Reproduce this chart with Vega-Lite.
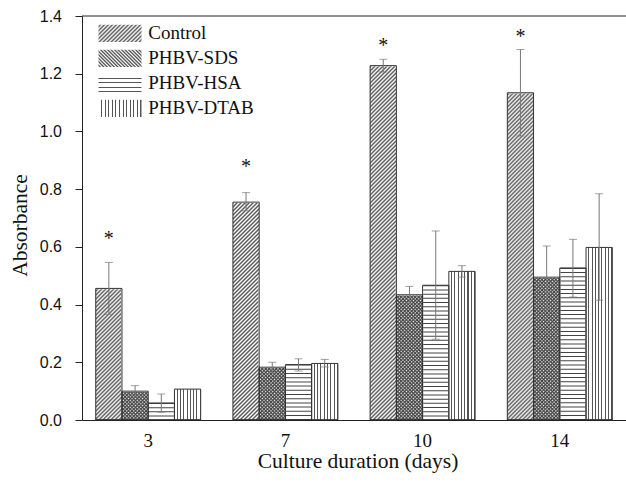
{
"$schema":"https://vega.github.io/schema/vega-lite/v6.json",
"width":544,"height":404,
"autosize":"none",
"padding":{"left":82,"top":16,"right":0,"bottom":63},
"background":"#ffffff",
"config":{"view":{"stroke":null},"font":"Liberation Serif"},
"data":{"values":[
{"day":"3","series":"Control","value":0.456,"lo":0.366,"hi":0.546,"star":0.639},
{"day":"3","series":"PHBV-SDS","value":0.100,"lo":0.083,"hi":0.119,"star":null},
{"day":"3","series":"PHBV-HSA","value":0.059,"lo":0.027,"hi":0.090,"star":null},
{"day":"3","series":"PHBV-DTAB","value":0.107,"lo":null,"hi":null,"star":null},
{"day":"7","series":"Control","value":0.755,"lo":0.725,"hi":0.788,"star":0.889},
{"day":"7","series":"PHBV-SDS","value":0.183,"lo":0.164,"hi":0.200,"star":null},
{"day":"7","series":"PHBV-HSA","value":0.192,"lo":0.170,"hi":0.212,"star":null},
{"day":"7","series":"PHBV-DTAB","value":0.196,"lo":0.184,"hi":0.210,"star":null},
{"day":"10","series":"Control","value":1.228,"lo":1.206,"hi":1.250,"star":1.307},
{"day":"10","series":"PHBV-SDS","value":0.434,"lo":0.405,"hi":0.463,"star":null},
{"day":"10","series":"PHBV-HSA","value":0.467,"lo":0.280,"hi":0.655,"star":null},
{"day":"10","series":"PHBV-DTAB","value":0.515,"lo":0.495,"hi":0.535,"star":null},
{"day":"14","series":"Control","value":1.134,"lo":0.984,"hi":1.284,"star":1.340},
{"day":"14","series":"PHBV-SDS","value":0.495,"lo":0.385,"hi":0.603,"star":null},
{"day":"14","series":"PHBV-HSA","value":0.527,"lo":0.426,"hi":0.626,"star":null},
{"day":"14","series":"PHBV-DTAB","value":0.598,"lo":0.415,"hi":0.784,"star":null}
]},
"layer":[
{"mark":{"type":"bar","filled":false,"stroke":"#333","strokeWidth":1,"opacity":0},
 "encoding":{
  "x":{"field":"day","type":"nominal","scale":{"domain":["3","7","10","14"],"paddingInner":0.235,"paddingOuter":0.1},
   "axis":{"title":"Culture duration (days)","labelAngle":0,"ticks":false,"tickSize":0,"labelFont":"Liberation Serif","labelFontSize":19,"labelColor":"#111","labelBaseline":"alphabetic","labelPadding":26,"domainColor":"#222","domainWidth":1,"titleFont":"Liberation Serif","titleFontSize":21.5,"titleFontWeight":"normal","titleColor":"#111","titleX":275.5,"titleY":47,"titleBaseline":"alphabetic","titleAlign":"center","grid":false,"zindex":1}},
  "xOffset":{"field":"series","type":"nominal","scale":{"domain":["Control","PHBV-SDS","PHBV-HSA","PHBV-DTAB"],"paddingInner":0,"paddingOuter":0}},
  "y":{"field":"value","type":"quantitative","scale":{"domain":[0,1.4],"nice":false},
   "axis":{"title":"Absorbance","values":[0,0.1,0.2,0.3,0.4,0.5,0.6,0.7,0.8,0.9,1,1.1,1.2,1.3,1.4],"labelExpr":"round(datum.value*10)%2==1 ? '' : format(datum.value,'.1f')","tickSize":{"condition":{"test":"round(datum.value*10)%2==1","value":4},"value":7},"tickColor":"#222","tickWidth":1,"domainColor":"#222","domainWidth":1,"grid":false,"labelFont":"Liberation Sans","labelFontSize":16,"labelColor":"#111","labelPadding":13.5,"titleFont":"Liberation Serif","titleFontSize":21.5,"titleFontWeight":"normal","titleColor":"#111","titleX":-55.3,"titleY":209,"titleBaseline":"alphabetic","titleAlign":"center","titleAngle":-90,"zindex":1}}}},
{"data":{"values":[{}]},"mark":{"type":"rule","color":"#222","strokeWidth":1},
 "encoding":{"y":{"datum":1.4,"type":"quantitative","scale":{"domain":[0,1.4],"nice":false}}}},
{"transform":[{"filter":"datum.series == 'Control'"}],
 "mark":{"type":"bar","fill":{"gradient":"linear","x1":0,"y1":0,"x2":0.08302,"y2":1.1208,"stops":[
{"offset":0,"color":"#fff"},{"offset":0.005,"color":"#555"},{"offset":0.01,"color":"#fff"},{"offset":0.015,"color":"#555"},{"offset":0.02,"color":"#fff"},{"offset":0.025,"color":"#555"},{"offset":0.03,"color":"#fff"},{"offset":0.035,"color":"#555"},{"offset":0.04,"color":"#fff"},{"offset":0.045,"color":"#555"},
{"offset":0.05,"color":"#fff"},{"offset":0.055,"color":"#555"},{"offset":0.06,"color":"#fff"},{"offset":0.065,"color":"#555"},{"offset":0.07,"color":"#fff"},{"offset":0.075,"color":"#555"},{"offset":0.08,"color":"#fff"},{"offset":0.085,"color":"#555"},{"offset":0.09,"color":"#fff"},{"offset":0.095,"color":"#555"},
{"offset":0.1,"color":"#fff"},{"offset":0.105,"color":"#555"},{"offset":0.11,"color":"#fff"},{"offset":0.115,"color":"#555"},{"offset":0.12,"color":"#fff"},{"offset":0.125,"color":"#555"},{"offset":0.13,"color":"#fff"},{"offset":0.135,"color":"#555"},{"offset":0.14,"color":"#fff"},{"offset":0.145,"color":"#555"},
{"offset":0.15,"color":"#fff"},{"offset":0.155,"color":"#555"},{"offset":0.16,"color":"#fff"},{"offset":0.165,"color":"#555"},{"offset":0.17,"color":"#fff"},{"offset":0.175,"color":"#555"},{"offset":0.18,"color":"#fff"},{"offset":0.185,"color":"#555"},{"offset":0.19,"color":"#fff"},{"offset":0.195,"color":"#555"},
{"offset":0.2,"color":"#fff"},{"offset":0.205,"color":"#555"},{"offset":0.21,"color":"#fff"},{"offset":0.215,"color":"#555"},{"offset":0.22,"color":"#fff"},{"offset":0.225,"color":"#555"},{"offset":0.23,"color":"#fff"},{"offset":0.235,"color":"#555"},{"offset":0.24,"color":"#fff"},{"offset":0.245,"color":"#555"},
{"offset":0.25,"color":"#fff"},{"offset":0.255,"color":"#555"},{"offset":0.26,"color":"#fff"},{"offset":0.265,"color":"#555"},{"offset":0.27,"color":"#fff"},{"offset":0.275,"color":"#555"},{"offset":0.28,"color":"#fff"},{"offset":0.285,"color":"#555"},{"offset":0.29,"color":"#fff"},{"offset":0.295,"color":"#555"},
{"offset":0.3,"color":"#fff"},{"offset":0.305,"color":"#555"},{"offset":0.31,"color":"#fff"},{"offset":0.315,"color":"#555"},{"offset":0.32,"color":"#fff"},{"offset":0.325,"color":"#555"},{"offset":0.33,"color":"#fff"},{"offset":0.335,"color":"#555"},{"offset":0.34,"color":"#fff"},{"offset":0.345,"color":"#555"},
{"offset":0.35,"color":"#fff"},{"offset":0.355,"color":"#555"},{"offset":0.36,"color":"#fff"},{"offset":0.365,"color":"#555"},{"offset":0.37,"color":"#fff"},{"offset":0.375,"color":"#555"},{"offset":0.38,"color":"#fff"},{"offset":0.385,"color":"#555"},{"offset":0.39,"color":"#fff"},{"offset":0.395,"color":"#555"},
{"offset":0.4,"color":"#fff"},{"offset":0.405,"color":"#555"},{"offset":0.41,"color":"#fff"},{"offset":0.415,"color":"#555"},{"offset":0.42,"color":"#fff"},{"offset":0.425,"color":"#555"},{"offset":0.43,"color":"#fff"},{"offset":0.435,"color":"#555"},{"offset":0.44,"color":"#fff"},{"offset":0.445,"color":"#555"},
{"offset":0.45,"color":"#fff"},{"offset":0.455,"color":"#555"},{"offset":0.46,"color":"#fff"},{"offset":0.465,"color":"#555"},{"offset":0.47,"color":"#fff"},{"offset":0.475,"color":"#555"},{"offset":0.48,"color":"#fff"},{"offset":0.485,"color":"#555"},{"offset":0.49,"color":"#fff"},{"offset":0.495,"color":"#555"},
{"offset":0.5,"color":"#fff"},{"offset":0.505,"color":"#555"},{"offset":0.51,"color":"#fff"},{"offset":0.515,"color":"#555"},{"offset":0.52,"color":"#fff"},{"offset":0.525,"color":"#555"},{"offset":0.53,"color":"#fff"},{"offset":0.535,"color":"#555"},{"offset":0.54,"color":"#fff"},{"offset":0.545,"color":"#555"},
{"offset":0.55,"color":"#fff"},{"offset":0.555,"color":"#555"},{"offset":0.56,"color":"#fff"},{"offset":0.565,"color":"#555"},{"offset":0.57,"color":"#fff"},{"offset":0.575,"color":"#555"},{"offset":0.58,"color":"#fff"},{"offset":0.585,"color":"#555"},{"offset":0.59,"color":"#fff"},{"offset":0.595,"color":"#555"},
{"offset":0.6,"color":"#fff"},{"offset":0.605,"color":"#555"},{"offset":0.61,"color":"#fff"},{"offset":0.615,"color":"#555"},{"offset":0.62,"color":"#fff"},{"offset":0.625,"color":"#555"},{"offset":0.63,"color":"#fff"},{"offset":0.635,"color":"#555"},{"offset":0.64,"color":"#fff"},{"offset":0.645,"color":"#555"},
{"offset":0.65,"color":"#fff"},{"offset":0.655,"color":"#555"},{"offset":0.66,"color":"#fff"},{"offset":0.665,"color":"#555"},{"offset":0.67,"color":"#fff"},{"offset":0.675,"color":"#555"},{"offset":0.68,"color":"#fff"},{"offset":0.685,"color":"#555"},{"offset":0.69,"color":"#fff"},{"offset":0.695,"color":"#555"},
{"offset":0.7,"color":"#fff"},{"offset":0.705,"color":"#555"},{"offset":0.71,"color":"#fff"},{"offset":0.715,"color":"#555"},{"offset":0.72,"color":"#fff"},{"offset":0.725,"color":"#555"},{"offset":0.73,"color":"#fff"},{"offset":0.735,"color":"#555"},{"offset":0.74,"color":"#fff"},{"offset":0.745,"color":"#555"},
{"offset":0.75,"color":"#fff"},{"offset":0.755,"color":"#555"},{"offset":0.76,"color":"#fff"},{"offset":0.765,"color":"#555"},{"offset":0.77,"color":"#fff"},{"offset":0.775,"color":"#555"},{"offset":0.78,"color":"#fff"},{"offset":0.785,"color":"#555"},{"offset":0.79,"color":"#fff"},{"offset":0.795,"color":"#555"},
{"offset":0.8,"color":"#fff"},{"offset":0.805,"color":"#555"},{"offset":0.81,"color":"#fff"},{"offset":0.815,"color":"#555"},{"offset":0.82,"color":"#fff"},{"offset":0.825,"color":"#555"},{"offset":0.83,"color":"#fff"},{"offset":0.835,"color":"#555"},{"offset":0.84,"color":"#fff"},{"offset":0.845,"color":"#555"},
{"offset":0.85,"color":"#fff"},{"offset":0.855,"color":"#555"},{"offset":0.86,"color":"#fff"},{"offset":0.865,"color":"#555"},{"offset":0.87,"color":"#fff"},{"offset":0.875,"color":"#555"},{"offset":0.88,"color":"#fff"},{"offset":0.885,"color":"#555"},{"offset":0.89,"color":"#fff"},{"offset":0.895,"color":"#555"},
{"offset":0.9,"color":"#fff"},{"offset":0.905,"color":"#555"},{"offset":0.91,"color":"#fff"},{"offset":0.915,"color":"#555"},{"offset":0.92,"color":"#fff"},{"offset":0.925,"color":"#555"},{"offset":0.93,"color":"#fff"},{"offset":0.935,"color":"#555"},{"offset":0.94,"color":"#fff"},{"offset":0.945,"color":"#555"},
{"offset":0.95,"color":"#fff"},{"offset":0.955,"color":"#555"},{"offset":0.96,"color":"#fff"},{"offset":0.965,"color":"#555"},{"offset":0.97,"color":"#fff"},{"offset":0.975,"color":"#555"},{"offset":0.98,"color":"#fff"},{"offset":0.985,"color":"#555"},{"offset":0.99,"color":"#fff"},{"offset":0.995,"color":"#555"},
{"offset":1,"color":"#fff"}]}},
 "encoding":{
  "x":{"field":"day","type":"nominal","scale":{"domain":["3","7","10","14"],"paddingInner":0.235,"paddingOuter":0.1}},
  "xOffset":{"field":"series","type":"nominal","scale":{"domain":["Control","PHBV-SDS","PHBV-HSA","PHBV-DTAB"],"paddingInner":0,"paddingOuter":0}},
  "y":{"datum":1.23,"type":"quantitative","scale":{"domain":[0,1.4],"nice":false}}}},
{"transform":[{"filter":"datum.series == 'PHBV-SDS'"}],
 "mark":{"type":"bar","fill":{"gradient":"linear","x1":0,"y1":0,"x2":0.21388,"y2":1.17387,"stops":[
{"offset":0,"color":"#fff"},{"offset":0.01,"color":"#444"},{"offset":0.02,"color":"#fff"},{"offset":0.03,"color":"#444"},{"offset":0.04,"color":"#fff"},{"offset":0.05,"color":"#444"},{"offset":0.06,"color":"#fff"},{"offset":0.07,"color":"#444"},{"offset":0.08,"color":"#fff"},{"offset":0.09,"color":"#444"},
{"offset":0.1,"color":"#fff"},{"offset":0.11,"color":"#444"},{"offset":0.12,"color":"#fff"},{"offset":0.13,"color":"#444"},{"offset":0.14,"color":"#fff"},{"offset":0.15,"color":"#444"},{"offset":0.16,"color":"#fff"},{"offset":0.17,"color":"#444"},{"offset":0.18,"color":"#fff"},{"offset":0.19,"color":"#444"},
{"offset":0.2,"color":"#fff"},{"offset":0.21,"color":"#444"},{"offset":0.22,"color":"#fff"},{"offset":0.23,"color":"#444"},{"offset":0.24,"color":"#fff"},{"offset":0.25,"color":"#444"},{"offset":0.26,"color":"#fff"},{"offset":0.27,"color":"#444"},{"offset":0.28,"color":"#fff"},{"offset":0.29,"color":"#444"},
{"offset":0.3,"color":"#fff"},{"offset":0.31,"color":"#444"},{"offset":0.32,"color":"#fff"},{"offset":0.33,"color":"#444"},{"offset":0.34,"color":"#fff"},{"offset":0.35,"color":"#444"},{"offset":0.36,"color":"#fff"},{"offset":0.37,"color":"#444"},{"offset":0.38,"color":"#fff"},{"offset":0.39,"color":"#444"},
{"offset":0.4,"color":"#fff"},{"offset":0.41,"color":"#444"},{"offset":0.42,"color":"#fff"},{"offset":0.43,"color":"#444"},{"offset":0.44,"color":"#fff"},{"offset":0.45,"color":"#444"},{"offset":0.46,"color":"#fff"},{"offset":0.47,"color":"#444"},{"offset":0.48,"color":"#fff"},{"offset":0.49,"color":"#444"},
{"offset":0.5,"color":"#fff"},{"offset":0.51,"color":"#444"},{"offset":0.52,"color":"#fff"},{"offset":0.53,"color":"#444"},{"offset":0.54,"color":"#fff"},{"offset":0.55,"color":"#444"},{"offset":0.56,"color":"#fff"},{"offset":0.57,"color":"#444"},{"offset":0.58,"color":"#fff"},{"offset":0.59,"color":"#444"},
{"offset":0.6,"color":"#fff"},{"offset":0.61,"color":"#444"},{"offset":0.62,"color":"#fff"},{"offset":0.63,"color":"#444"},{"offset":0.64,"color":"#fff"},{"offset":0.65,"color":"#444"},{"offset":0.66,"color":"#fff"},{"offset":0.67,"color":"#444"},{"offset":0.68,"color":"#fff"},{"offset":0.69,"color":"#444"},
{"offset":0.7,"color":"#fff"},{"offset":0.71,"color":"#444"},{"offset":0.72,"color":"#fff"},{"offset":0.73,"color":"#444"},{"offset":0.74,"color":"#fff"},{"offset":0.75,"color":"#444"},{"offset":0.76,"color":"#fff"},{"offset":0.77,"color":"#444"},{"offset":0.78,"color":"#fff"},{"offset":0.79,"color":"#444"},
{"offset":0.8,"color":"#fff"},{"offset":0.81,"color":"#444"},{"offset":0.82,"color":"#fff"},{"offset":0.83,"color":"#444"},{"offset":0.84,"color":"#fff"},{"offset":0.85,"color":"#444"},{"offset":0.86,"color":"#fff"},{"offset":0.87,"color":"#444"},{"offset":0.88,"color":"#fff"},{"offset":0.89,"color":"#444"},
{"offset":0.9,"color":"#fff"},{"offset":0.91,"color":"#444"},{"offset":0.92,"color":"#fff"},{"offset":0.93,"color":"#444"},{"offset":0.94,"color":"#fff"},{"offset":0.95,"color":"#444"},{"offset":0.96,"color":"#fff"},{"offset":0.97,"color":"#444"},{"offset":0.98,"color":"#fff"},{"offset":0.99,"color":"#444"},
{"offset":1,"color":"#fff"}]}},
 "encoding":{
  "x":{"field":"day","type":"nominal","scale":{"domain":["3","7","10","14"],"paddingInner":0.235,"paddingOuter":0.1}},
  "xOffset":{"field":"series","type":"nominal","scale":{"domain":["Control","PHBV-SDS","PHBV-HSA","PHBV-DTAB"],"paddingInner":0,"paddingOuter":0}},
  "y":{"datum":0.5,"type":"quantitative","scale":{"domain":[0,1.4],"nice":false}}}},
{"transform":[{"filter":"datum.series == 'PHBV-SDS'"}],
 "mark":{"type":"bar","fill":{"gradient":"linear","x1":0,"y1":1,"x2":0.21388,"y2":-0.17387,"stops":[
{"offset":0,"color":"rgba(68,68,68,0)"},{"offset":0.01,"color":"#444"},{"offset":0.02,"color":"rgba(68,68,68,0)"},{"offset":0.03,"color":"#444"},{"offset":0.04,"color":"rgba(68,68,68,0)"},{"offset":0.05,"color":"#444"},{"offset":0.06,"color":"rgba(68,68,68,0)"},{"offset":0.07,"color":"#444"},{"offset":0.08,"color":"rgba(68,68,68,0)"},{"offset":0.09,"color":"#444"},
{"offset":0.1,"color":"rgba(68,68,68,0)"},{"offset":0.11,"color":"#444"},{"offset":0.12,"color":"rgba(68,68,68,0)"},{"offset":0.13,"color":"#444"},{"offset":0.14,"color":"rgba(68,68,68,0)"},{"offset":0.15,"color":"#444"},{"offset":0.16,"color":"rgba(68,68,68,0)"},{"offset":0.17,"color":"#444"},{"offset":0.18,"color":"rgba(68,68,68,0)"},{"offset":0.19,"color":"#444"},
{"offset":0.2,"color":"rgba(68,68,68,0)"},{"offset":0.21,"color":"#444"},{"offset":0.22,"color":"rgba(68,68,68,0)"},{"offset":0.23,"color":"#444"},{"offset":0.24,"color":"rgba(68,68,68,0)"},{"offset":0.25,"color":"#444"},{"offset":0.26,"color":"rgba(68,68,68,0)"},{"offset":0.27,"color":"#444"},{"offset":0.28,"color":"rgba(68,68,68,0)"},{"offset":0.29,"color":"#444"},
{"offset":0.3,"color":"rgba(68,68,68,0)"},{"offset":0.31,"color":"#444"},{"offset":0.32,"color":"rgba(68,68,68,0)"},{"offset":0.33,"color":"#444"},{"offset":0.34,"color":"rgba(68,68,68,0)"},{"offset":0.35,"color":"#444"},{"offset":0.36,"color":"rgba(68,68,68,0)"},{"offset":0.37,"color":"#444"},{"offset":0.38,"color":"rgba(68,68,68,0)"},{"offset":0.39,"color":"#444"},
{"offset":0.4,"color":"rgba(68,68,68,0)"},{"offset":0.41,"color":"#444"},{"offset":0.42,"color":"rgba(68,68,68,0)"},{"offset":0.43,"color":"#444"},{"offset":0.44,"color":"rgba(68,68,68,0)"},{"offset":0.45,"color":"#444"},{"offset":0.46,"color":"rgba(68,68,68,0)"},{"offset":0.47,"color":"#444"},{"offset":0.48,"color":"rgba(68,68,68,0)"},{"offset":0.49,"color":"#444"},
{"offset":0.5,"color":"rgba(68,68,68,0)"},{"offset":0.51,"color":"#444"},{"offset":0.52,"color":"rgba(68,68,68,0)"},{"offset":0.53,"color":"#444"},{"offset":0.54,"color":"rgba(68,68,68,0)"},{"offset":0.55,"color":"#444"},{"offset":0.56,"color":"rgba(68,68,68,0)"},{"offset":0.57,"color":"#444"},{"offset":0.58,"color":"rgba(68,68,68,0)"},{"offset":0.59,"color":"#444"},
{"offset":0.6,"color":"rgba(68,68,68,0)"},{"offset":0.61,"color":"#444"},{"offset":0.62,"color":"rgba(68,68,68,0)"},{"offset":0.63,"color":"#444"},{"offset":0.64,"color":"rgba(68,68,68,0)"},{"offset":0.65,"color":"#444"},{"offset":0.66,"color":"rgba(68,68,68,0)"},{"offset":0.67,"color":"#444"},{"offset":0.68,"color":"rgba(68,68,68,0)"},{"offset":0.69,"color":"#444"},
{"offset":0.7,"color":"rgba(68,68,68,0)"},{"offset":0.71,"color":"#444"},{"offset":0.72,"color":"rgba(68,68,68,0)"},{"offset":0.73,"color":"#444"},{"offset":0.74,"color":"rgba(68,68,68,0)"},{"offset":0.75,"color":"#444"},{"offset":0.76,"color":"rgba(68,68,68,0)"},{"offset":0.77,"color":"#444"},{"offset":0.78,"color":"rgba(68,68,68,0)"},{"offset":0.79,"color":"#444"},
{"offset":0.8,"color":"rgba(68,68,68,0)"},{"offset":0.81,"color":"#444"},{"offset":0.82,"color":"rgba(68,68,68,0)"},{"offset":0.83,"color":"#444"},{"offset":0.84,"color":"rgba(68,68,68,0)"},{"offset":0.85,"color":"#444"},{"offset":0.86,"color":"rgba(68,68,68,0)"},{"offset":0.87,"color":"#444"},{"offset":0.88,"color":"rgba(68,68,68,0)"},{"offset":0.89,"color":"#444"},
{"offset":0.9,"color":"rgba(68,68,68,0)"},{"offset":0.91,"color":"#444"},{"offset":0.92,"color":"rgba(68,68,68,0)"},{"offset":0.93,"color":"#444"},{"offset":0.94,"color":"rgba(68,68,68,0)"},{"offset":0.95,"color":"#444"},{"offset":0.96,"color":"rgba(68,68,68,0)"},{"offset":0.97,"color":"#444"},{"offset":0.98,"color":"rgba(68,68,68,0)"},{"offset":0.99,"color":"#444"},
{"offset":1,"color":"rgba(68,68,68,0)"}]}},
 "encoding":{
  "x":{"field":"day","type":"nominal","scale":{"domain":["3","7","10","14"],"paddingInner":0.235,"paddingOuter":0.1}},
  "xOffset":{"field":"series","type":"nominal","scale":{"domain":["Control","PHBV-SDS","PHBV-HSA","PHBV-DTAB"],"paddingInner":0,"paddingOuter":0}},
  "y":{"datum":0.5,"type":"quantitative","scale":{"domain":[0,1.4],"nice":false}}}},
{"transform":[{"filter":"datum.series == 'Control'"}],
 "mark":{"type":"bar","fill":"#ffffff","stroke":"#ffffff","strokeWidth":1.5},
 "encoding":{
  "x":{"field":"day","type":"nominal","scale":{"domain":["3","7","10","14"],"paddingInner":0.235,"paddingOuter":0.1}},
  "xOffset":{"field":"series","type":"nominal","scale":{"domain":["Control","PHBV-SDS","PHBV-HSA","PHBV-DTAB"],"paddingInner":0,"paddingOuter":0}},
  "y":{"field":"value","type":"quantitative","scale":{"domain":[0,1.4],"nice":false}},
  "y2":{"datum":1.23}}},
{"transform":[{"filter":"datum.series == 'PHBV-SDS'"}],
 "mark":{"type":"bar","fill":"#ffffff","stroke":"#ffffff","strokeWidth":1.5},
 "encoding":{
  "x":{"field":"day","type":"nominal","scale":{"domain":["3","7","10","14"],"paddingInner":0.235,"paddingOuter":0.1}},
  "xOffset":{"field":"series","type":"nominal","scale":{"domain":["Control","PHBV-SDS","PHBV-HSA","PHBV-DTAB"],"paddingInner":0,"paddingOuter":0}},
  "y":{"field":"value","type":"quantitative","scale":{"domain":[0,1.4],"nice":false}},
  "y2":{"datum":0.5}}},
{"transform":[{"filter":"datum.series == 'PHBV-DTAB'"}],
 "mark":{"type":"bar","fill":{"gradient":"linear","x1":0,"y1":0,"x2":1,"y2":0,"stops":[
{"offset":0,"color":"#fff"},{"offset":0.085,"color":"#fff"},{"offset":0.085,"color":"#555"},{"offset":0.125,"color":"#555"},
{"offset":0.125,"color":"#fff"},{"offset":0.21,"color":"#fff"},{"offset":0.21,"color":"#555"},{"offset":0.25,"color":"#555"},
{"offset":0.25,"color":"#fff"},{"offset":0.335,"color":"#fff"},{"offset":0.335,"color":"#555"},{"offset":0.375,"color":"#555"},
{"offset":0.375,"color":"#fff"},{"offset":0.46,"color":"#fff"},{"offset":0.46,"color":"#555"},{"offset":0.5,"color":"#555"},
{"offset":0.5,"color":"#fff"},{"offset":0.585,"color":"#fff"},{"offset":0.585,"color":"#555"},{"offset":0.625,"color":"#555"},
{"offset":0.625,"color":"#fff"},{"offset":0.71,"color":"#fff"},{"offset":0.71,"color":"#555"},{"offset":0.75,"color":"#555"},
{"offset":0.75,"color":"#fff"},{"offset":0.835,"color":"#fff"},{"offset":0.835,"color":"#555"},{"offset":0.875,"color":"#555"},
{"offset":0.875,"color":"#fff"},{"offset":0.96,"color":"#fff"},{"offset":0.96,"color":"#555"},{"offset":1,"color":"#555"}]}},
 "encoding":{
  "x":{"field":"day","type":"nominal","scale":{"domain":["3","7","10","14"],"paddingInner":0.235,"paddingOuter":0.1}},
  "xOffset":{"field":"series","type":"nominal","scale":{"domain":["Control","PHBV-SDS","PHBV-HSA","PHBV-DTAB"],"paddingInner":0,"paddingOuter":0}},
  "y":{"field":"value","type":"quantitative","scale":{"domain":[0,1.4],"nice":false}}}},
{"transform":[{"filter":"datum.series == 'PHBV-HSA'"}],
 "mark":{"type":"rule","color":"#444","strokeWidth":25,"strokeDash":[1,3.2],"strokeCap":"butt"},
 "encoding":{
  "x":{"field":"day","type":"nominal","scale":{"domain":["3","7","10","14"],"paddingInner":0.235,"paddingOuter":0.1}},
  "xOffset":{"field":"series","type":"nominal","scale":{"domain":["Control","PHBV-SDS","PHBV-HSA","PHBV-DTAB"],"paddingInner":0,"paddingOuter":0}},
  "y":{"field":"value","type":"quantitative","scale":{"domain":[0,1.4],"nice":false}},
  "y2":{"datum":0}}},
{"mark":{"type":"bar","filled":false,"stroke":"#333","strokeWidth":1},
 "encoding":{
  "x":{"field":"day","type":"nominal","scale":{"domain":["3","7","10","14"],"paddingInner":0.235,"paddingOuter":0.1}},
  "xOffset":{"field":"series","type":"nominal","scale":{"domain":["Control","PHBV-SDS","PHBV-HSA","PHBV-DTAB"],"paddingInner":0,"paddingOuter":0}},
  "y":{"field":"value","type":"quantitative","scale":{"domain":[0,1.4],"nice":false}}}},
{"transform":[{"filter":"datum.lo != null"}],
 "mark":{"type":"rule","color":"#777","strokeWidth":1},
 "encoding":{
  "x":{"field":"day","type":"nominal","scale":{"domain":["3","7","10","14"],"paddingInner":0.235,"paddingOuter":0.1}},
  "xOffset":{"field":"series","type":"nominal","scale":{"domain":["Control","PHBV-SDS","PHBV-HSA","PHBV-DTAB"],"paddingInner":0,"paddingOuter":0}},
  "y":{"field":"lo","type":"quantitative","scale":{"domain":[0,1.4],"nice":false}},
  "y2":{"field":"hi"}}},
{"transform":[{"filter":"datum.lo != null"}],
 "mark":{"type":"tick","color":"#777","size":8,"thickness":1,"orient":"horizontal"},
 "encoding":{
  "x":{"field":"day","type":"nominal","scale":{"domain":["3","7","10","14"],"paddingInner":0.235,"paddingOuter":0.1}},
  "xOffset":{"field":"series","type":"nominal","scale":{"domain":["Control","PHBV-SDS","PHBV-HSA","PHBV-DTAB"],"paddingInner":0,"paddingOuter":0}},
  "y":{"field":"lo","type":"quantitative","scale":{"domain":[0,1.4],"nice":false}}}},
{"transform":[{"filter":"datum.hi != null"}],
 "mark":{"type":"tick","color":"#777","size":8,"thickness":1,"orient":"horizontal"},
 "encoding":{
  "x":{"field":"day","type":"nominal","scale":{"domain":["3","7","10","14"],"paddingInner":0.235,"paddingOuter":0.1}},
  "xOffset":{"field":"series","type":"nominal","scale":{"domain":["Control","PHBV-SDS","PHBV-HSA","PHBV-DTAB"],"paddingInner":0,"paddingOuter":0}},
  "y":{"field":"hi","type":"quantitative","scale":{"domain":[0,1.4],"nice":false}}}},
{"transform":[{"filter":"datum.star != null"}],
 "mark":{"type":"text","text":"*","font":"Liberation Serif","fontSize":20,"baseline":"alphabetic","align":"center","dy":9.4,"color":"#111"},
 "encoding":{
  "x":{"field":"day","type":"nominal","scale":{"domain":["3","7","10","14"],"paddingInner":0.235,"paddingOuter":0.1}},
  "xOffset":{"field":"series","type":"nominal","scale":{"domain":["Control","PHBV-SDS","PHBV-HSA","PHBV-DTAB"],"paddingInner":0,"paddingOuter":0}},
  "y":{"field":"star","type":"quantitative","scale":{"domain":[0,1.4],"nice":false}}}},
{"mark":{"type":"bar","stroke":"#333","strokeWidth":1,
  "fill":{"expr":"datum.value === 'Control' ? {gradient:'linear',x1:0,y1:0,x2:1.2831,y2:0.5132,stops:[{offset:0,color:'#fff'},{offset:0.03125,color:'#555'},{offset:0.0625,color:'#fff'},{offset:0.09375,color:'#555'},{offset:0.125,color:'#fff'},{offset:0.15625,color:'#555'},{offset:0.1875,color:'#fff'},{offset:0.21875,color:'#555'},{offset:0.25,color:'#fff'},{offset:0.28125,color:'#555'},{offset:0.3125,color:'#fff'},{offset:0.34375,color:'#555'},{offset:0.375,color:'#fff'},{offset:0.40625,color:'#555'},{offset:0.4375,color:'#fff'},{offset:0.46875,color:'#555'},{offset:0.5,color:'#fff'},{offset:0.53125,color:'#555'},{offset:0.5625,color:'#fff'},{offset:0.59375,color:'#555'},{offset:0.625,color:'#fff'},{offset:0.65625,color:'#555'},{offset:0.6875,color:'#fff'},{offset:0.71875,color:'#555'},{offset:0.75,color:'#fff'},{offset:0.78125,color:'#555'},{offset:0.8125,color:'#fff'},{offset:0.84375,color:'#555'},{offset:0.875,color:'#fff'},{offset:0.90625,color:'#555'},{offset:0.9375,color:'#fff'},{offset:0.96875,color:'#555'},{offset:1,color:'#fff'}]} : datum.value === 'PHBV-SDS' ? {gradient:'linear',x1:0,y1:1,x2:1.2631,y2:0.4948,stops:[{offset:0,color:'#fff'},{offset:0.0278,color:'#444'},{offset:0.0556,color:'#fff'},{offset:0.0833,color:'#444'},{offset:0.1111,color:'#fff'},{offset:0.1389,color:'#444'},{offset:0.1667,color:'#fff'},{offset:0.1944,color:'#444'},{offset:0.2222,color:'#fff'},{offset:0.25,color:'#444'},{offset:0.2778,color:'#fff'},{offset:0.3056,color:'#444'},{offset:0.3333,color:'#fff'},{offset:0.3611,color:'#444'},{offset:0.3889,color:'#fff'},{offset:0.4167,color:'#444'},{offset:0.4444,color:'#fff'},{offset:0.4722,color:'#444'},{offset:0.5,color:'#fff'},{offset:0.5278,color:'#444'},{offset:0.5556,color:'#fff'},{offset:0.5833,color:'#444'},{offset:0.6111,color:'#fff'},{offset:0.6389,color:'#444'},{offset:0.6667,color:'#fff'},{offset:0.6944,color:'#444'},{offset:0.7222,color:'#fff'},{offset:0.75,color:'#444'},{offset:0.7778,color:'#fff'},{offset:0.8056,color:'#444'},{offset:0.8333,color:'#fff'},{offset:0.8611,color:'#444'},{offset:0.8889,color:'#fff'},{offset:0.9167,color:'#444'},{offset:0.9444,color:'#fff'},{offset:0.9722,color:'#444'},{offset:1,color:'#fff'}]} : datum.value === 'PHBV-HSA' ? {gradient:'linear',x1:0,y1:0,x2:0,y2:1,stops:[{offset:0,color:'#fff'},{offset:0.19,color:'#fff'},{offset:0.19,color:'#555'},{offset:0.25,color:'#555'},{offset:0.25,color:'#fff'},{offset:0.44,color:'#fff'},{offset:0.44,color:'#555'},{offset:0.5,color:'#555'},{offset:0.5,color:'#fff'},{offset:0.69,color:'#fff'},{offset:0.69,color:'#555'},{offset:0.75,color:'#555'},{offset:0.75,color:'#fff'},{offset:0.94,color:'#fff'},{offset:0.94,color:'#555'},{offset:1,color:'#555'}]} : {gradient:'linear',x1:0,y1:0,x2:1,y2:0,stops:[{offset:0,color:'#fff'},{offset:0.0583,color:'#fff'},{offset:0.0583,color:'#555'},{offset:0.0833,color:'#555'},{offset:0.0833,color:'#fff'},{offset:0.1417,color:'#fff'},{offset:0.1417,color:'#555'},{offset:0.1667,color:'#555'},{offset:0.1667,color:'#fff'},{offset:0.225,color:'#fff'},{offset:0.225,color:'#555'},{offset:0.25,color:'#555'},{offset:0.25,color:'#fff'},{offset:0.3083,color:'#fff'},{offset:0.3083,color:'#555'},{offset:0.3333,color:'#555'},{offset:0.3333,color:'#fff'},{offset:0.3917,color:'#fff'},{offset:0.3917,color:'#555'},{offset:0.4167,color:'#555'},{offset:0.4167,color:'#fff'},{offset:0.475,color:'#fff'},{offset:0.475,color:'#555'},{offset:0.5,color:'#555'},{offset:0.5,color:'#fff'},{offset:0.5583,color:'#fff'},{offset:0.5583,color:'#555'},{offset:0.5833,color:'#555'},{offset:0.5833,color:'#fff'},{offset:0.6417,color:'#fff'},{offset:0.6417,color:'#555'},{offset:0.6667,color:'#555'},{offset:0.6667,color:'#fff'},{offset:0.725,color:'#fff'},{offset:0.725,color:'#555'},{offset:0.75,color:'#555'},{offset:0.75,color:'#fff'},{offset:0.8083,color:'#fff'},{offset:0.8083,color:'#555'},{offset:0.8333,color:'#555'},{offset:0.8333,color:'#fff'},{offset:0.8917,color:'#fff'},{offset:0.8917,color:'#555'},{offset:0.9167,color:'#555'},{offset:0.9167,color:'#fff'},{offset:0.975,color:'#fff'},{offset:0.975,color:'#555'},{offset:1,color:'#555'}]}"}},
 "encoding":{
  "x":{"field":"day","type":"nominal","scale":{"domain":["3","7","10","14"],"paddingInner":0.235,"paddingOuter":0.1}},
  "xOffset":{"field":"series","type":"nominal","scale":{"domain":["Control","PHBV-SDS","PHBV-HSA","PHBV-DTAB"],"paddingInner":0,"paddingOuter":0}},
  "y":{"datum":0,"type":"quantitative","scale":{"domain":[0,1.4],"nice":false}},
  "strokeDash":{"field":"series","type":"nominal","scale":{"domain":["Control","PHBV-SDS","PHBV-HSA","PHBV-DTAB"],"range":[[1,0],[1,0],[1,0],[1,0]]},
   "legend":{"title":null,"orient":"none","legendX":16,"legendY":6,"padding":0,"rowPadding":2,"clipHeight":22.7,
    "symbolType":"M-1,-0.4H1V0.4H-1Z","symbolSize":1849,"symbolStrokeWidth":1,"symbolStrokeColor":"#333",
    "labelFont":"Liberation Serif","labelFontSize":19,"labelColor":"#111","labelOffset":6.3}}}}
]
}
